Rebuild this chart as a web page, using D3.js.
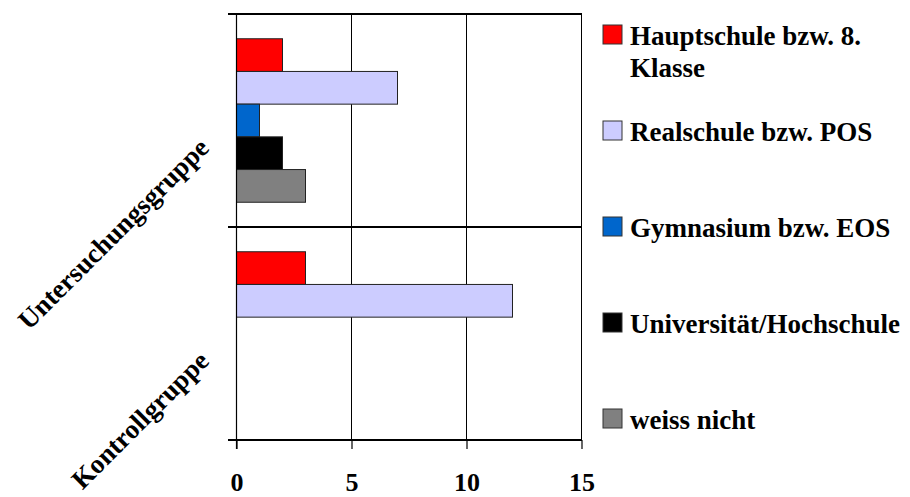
<!DOCTYPE html>
<html>
<head>
<meta charset="utf-8">
<script src="https://cdn.jsdelivr.net/npm/d3@7"></script>
<style>
  html, body { margin: 0; padding: 0; background: #fff; }
  svg { display: block; }
  text { font-family: "Liberation Serif", "Times New Roman", serif; font-weight: bold; fill: #000; }
</style>
</head>
<body>
<svg id="chart" width="910" height="497"></svg>
<script>
// Schulabschluss der Eltern: Untersuchungs- vs. Kontrollgruppe
const categories = ["Untersuchungsgruppe", "Kontrollgruppe"];
const seriesKeys = ["haupt", "real", "gym", "uni", "weiss"];
const legendLines = [
  ["Hauptschule bzw. 8.", "Klasse"],
  ["Realschule bzw. POS"],
  ["Gymnasium bzw. EOS"],
  ["Universität/Hochschule"],
  ["weiss nicht"]
];
const seriesColors = ["#ff0000", "#ccccff", "#0066cc", "#000000", "#808080"];
const hauptschule = [2, 3];
const realschule = [7, 12];
const gymnasium = [1, 0];
const universitaet = [2, 0];
const weissNicht = [3, 0];
const xTicks = [0, 5, 10, 15];

const seriesValues = [hauptschule, realschule, gymnasium, universitaet, weissNicht];

const svg = d3.select("#chart");
const plot = { left: 236.5, right: 581.5, top: 14, bottom: 440 };
const fontSize = 27;

const x = d3.scaleLinear().domain([0, 15]).range([plot.left, plot.right]);
const y = d3.scaleBand().domain(categories).range([plot.top, plot.bottom]).padding(0);
const ySeries = d3.scaleBand().domain(seriesKeys).range([0, y.bandwidth()])
  .paddingInner(0).paddingOuter(0.757);

// Gridlines: vertical at x ticks, horizontal at category boundaries
const grid = svg.append("g").attr("stroke", "#000").attr("stroke-width", 1.2).attr("shape-rendering", "crispEdges");
grid.selectAll("line.v").data(xTicks.slice(1)).join("line")
  .attr("x1", d => x(d)).attr("x2", d => x(d))
  .attr("y1", plot.top).attr("y2", plot.bottom);
const boundaries = [plot.top].concat(categories.map(c => y(c) + y.bandwidth()));
grid.selectAll("line.h").data(boundaries).join("line")
  .attr("x1", plot.left - 9).attr("x2", plot.right)
  .attr("y1", d => d).attr("y2", d => d);

// Bars
const rows = [];
categories.forEach((c, ci) => {
  seriesKeys.forEach((k, si) => {
    rows.push({ cat: c, key: k, value: seriesValues[si][ci], color: seriesColors[si] });
  });
});
svg.append("g").selectAll("rect").data(rows.filter(d => d.value > 0)).join("rect")
  .attr("x", x(0))
  .attr("y", d => y(d.cat) + ySeries(d.key))
  .attr("width", d => x(d.value) - x(0))
  .attr("height", ySeries.bandwidth())
  .attr("fill", d => d.color)
  .attr("stroke", "#222")
  .attr("stroke-width", 1);

// Value axis at the bottom
const xAxis = svg.append("g").attr("transform", `translate(0,${plot.bottom})`)
  .call(d3.axisBottom(x).tickValues(xTicks).tickSize(9).tickFormat(d3.format("d")));
xAxis.select(".domain").remove();
xAxis.selectAll("line").attr("stroke", "#000").attr("stroke-width", 1.2);
xAxis.selectAll("text")
  .attr("font-size", 26).attr("font-family", "Liberation Serif").attr("font-weight", "bold")
  .attr("fill", "#000").attr("y", 51).attr("dy", 0);

// Category axis line
svg.append("line").attr("x1", plot.left).attr("x2", plot.left)
  .attr("y1", plot.top).attr("y2", plot.bottom + 9)
  .attr("stroke", "#000").attr("stroke-width", 1.2);

// Rotated category labels
svg.append("g").selectAll("text").data(categories).join("text")
  .attr("text-anchor", "end")
  .attr("font-size", fontSize)
  .attr("transform", d => `translate(${plot.left - 26},${y(d) + y.bandwidth() / 2 + 29}) rotate(-45)`)
  .text(d => d);

// Legend
const legend = svg.append("g");
const legendItem = legend.selectAll("g").data(legendLines).join("g")
  .attr("transform", (d, i) => `translate(603,${45 + i * 96})`);
legendItem.append("rect")
  .attr("x", 0).attr("y", -20).attr("width", 19).attr("height", 19)
  .attr("fill", (d, i) => seriesColors[i]).attr("stroke", "#333").attr("stroke-width", 1);
legendItem.append("text")
  .attr("font-size", fontSize)
  .selectAll("tspan").data(d => d).join("tspan")
  .attr("x", 27).attr("dy", (d, i) => i === 0 ? 0 : 32)
  .text(d => d);
</script>
</body>
</html>
